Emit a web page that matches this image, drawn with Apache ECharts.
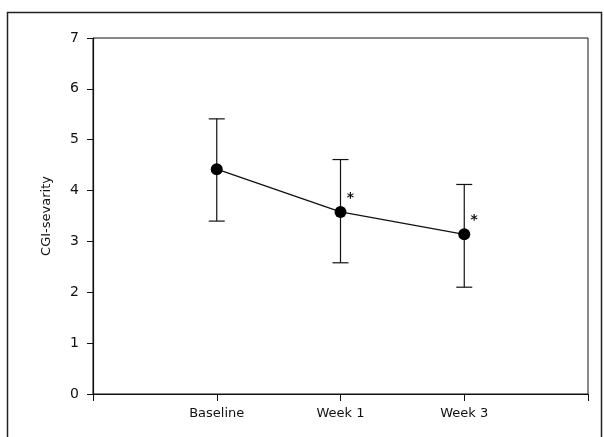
<!DOCTYPE html>
<html>
<head>
<meta charset="utf-8">
<script src="https://cdn.jsdelivr.net/npm/echarts@6/dist/echarts.min.js"></script>
<style>
  html, body { margin: 0; padding: 0; background: #fff; }
  #chart { width: 604px; height: 437px; }
</style>
</head>
<body>
<div id="chart"></div>
<script>
// time points (placed at x = 1, 2, 3 on a 0..4 axis)
var categories = ["Baseline", "Week 1", "Week 3"];
var meanValues = [4.42, 3.58, 3.14];
var upperValues = [5.41, 4.61, 4.12];
var lowerValues = [3.40, 2.58, 2.10];
var significance = ["", "*", "*"];
var yTicks = [0, 1, 2, 3, 4, 5, 6, 7];

var lineData = categories.map(function (c, i) {
  return { value: [i + 1, meanValues[i]], sig: significance[i] };
});
var errData = categories.map(function (c, i) {
  return [i + 1, lowerValues[i], upperValues[i]];
});

var chart = echarts.init(document.getElementById("chart"));
var font = "'DejaVu Sans', sans-serif";

var option = {
  animation: false,
  graphic: [{
    type: "rect",
    shape: { x: 7.5, y: 12.5, width: 594, height: 440 },
    style: { fill: "none", stroke: "#222", lineWidth: 1.5 },
    silent: true
  }],
  grid: {
    left: 93, top: 38, right: 16, bottom: 43,
    show: true, borderColor: "#111", borderWidth: 1
  },
  xAxis: {
    type: "value",
    min: 0, max: 4, interval: 1,
    splitLine: { show: false },
    axisLine: { lineStyle: { color: "#111", width: 1.2 } },
    axisTick: { length: 7, lineStyle: { color: "#111" } },
    axisLabel: {
      color: "#111", fontSize: 13, fontFamily: font, margin: 13,
      formatter: function (v) { return categories[v - 1] || ""; }
    }
  },
  yAxis: {
    type: "value",
    min: yTicks[0], max: yTicks[yTicks.length - 1], interval: 1,
    name: "CGI-sevarity",
    nameLocation: "middle",
    nameGap: 40,
    nameTextStyle: { color: "#111", fontSize: 13, fontFamily: font },
    splitLine: { show: false },
    axisLine: { lineStyle: { color: "#111", width: 1.2 } },
    axisTick: { length: 6, lineStyle: { color: "#111" } },
    axisLabel: { color: "#111", fontSize: 14, fontFamily: font, margin: 14 }
  },
  series: [
    {
      type: "custom",
      data: errData,
      z: 2,
      renderItem: function (params, api) {
        var x = api.value(0);
        var lo = api.coord([x, api.value(1)]);
        var hi = api.coord([x, api.value(2)]);
        var hw = 8;
        var st = { stroke: "#111", lineWidth: 1.2 };
        return {
          type: "group",
          children: [
            { type: "line", shape: { x1: lo[0], y1: lo[1], x2: hi[0], y2: hi[1] }, style: st },
            { type: "line", shape: { x1: hi[0] - hw, y1: hi[1], x2: hi[0] + hw, y2: hi[1] }, style: st },
            { type: "line", shape: { x1: lo[0] - hw, y1: lo[1], x2: lo[0] + hw, y2: lo[1] }, style: st }
          ]
        };
      }
    },
    {
      type: "line",
      data: lineData,
      z: 3,
      symbol: "circle",
      symbolSize: 12,
      itemStyle: { color: "#000" },
      lineStyle: { color: "#111", width: 1.3 },
      label: {
        show: true,
        position: "inside",
        offset: [10, -14],
        color: "#111",
        fontSize: 14,
        fontWeight: "bold",
        fontFamily: font,
        formatter: function (p) { return p.data.sig; }
      }
    }
  ]
};
chart.setOption(option);
</script>
</body>
</html>
